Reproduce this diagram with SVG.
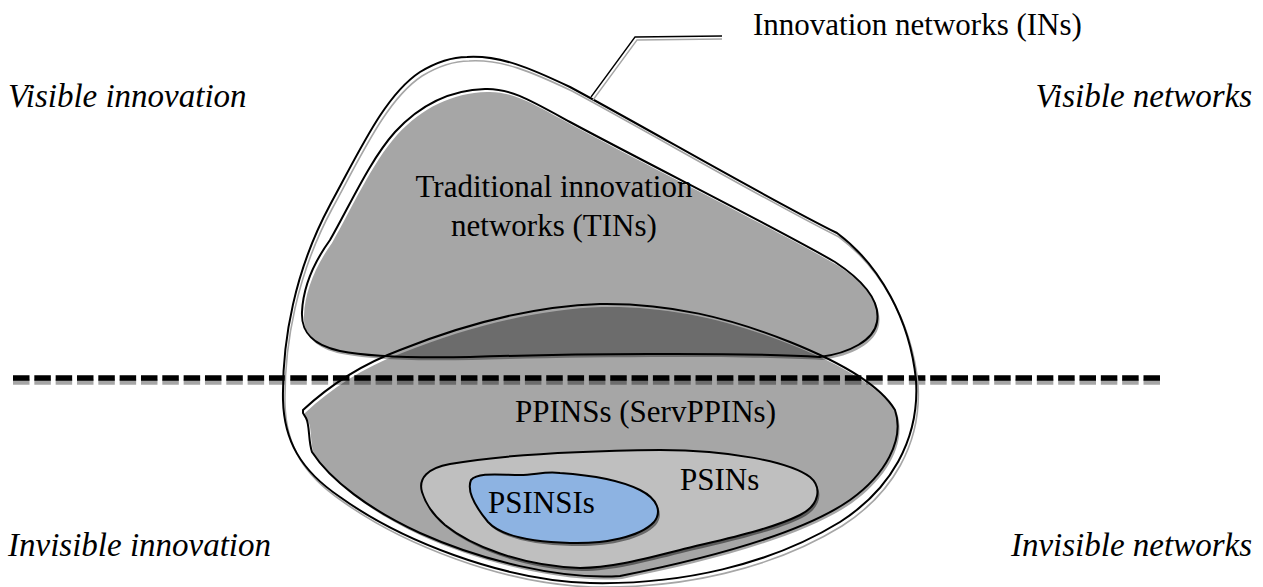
<svg xmlns="http://www.w3.org/2000/svg" width="1263" height="587" viewBox="0 0 1263 587">
<defs>
<style>
text{font-family:"Liberation Serif","Times New Roman",serif;font-size:31px;fill:#000}
.it{font-style:italic;font-size:33px}
.ol{fill:none;stroke:#000;stroke-width:2;stroke-linejoin:round}
.semi{fill:#000;fill-opacity:.35;stroke:none}
.shd{fill:#000;fill-opacity:.45;stroke:none}
.dash{fill:none;stroke-width:5.5;stroke-dasharray:16.5 4.83}
</style>
<path id="pIN" d="M467,57 C500,55 530,68 570,87 C650,130 770,200 837,233 C880,265 910,320 916,380 C920,440 890,490 840,522 C770,565 680,585 590,583 C500,580 400,540 340,497 C300,470 284,440 283,400 C282,340 295,270 330,205 C360,150 385,95 420,72 C440,60 455,57 467,57 Z"/>
<path id="pTIN" d="M485,89 C510,88 530,100 570,122 C650,165 780,230 835,262 C870,285 880,305 877,322 C874,340 850,353 820,357 C740,352 560,354 470,357 C420,358 370,357 340,351 C312,345 301,332 302,312 C303,290 312,265 330,240 C350,205 370,160 395,132 C420,105 450,90 485,89 Z"/>
<path id="pPP" d="M303,410 C330,385 360,365 400,350 C470,322 540,306 600,304 C670,303 730,318 790,342 C840,362 880,385 895,410 C905,440 885,475 850,500 C800,535 700,560 620,576 C560,580 480,560 420,533 C370,510 330,480 312,452 C308,440 310,425 306,418 L303,413 Z"/>
<path id="pPS" d="M422,492 C418,478 428,468 450,464 C500,455 580,451 660,450 C730,450 790,462 810,477 C822,487 820,505 800,515 C770,530 720,540 680,550 C640,560 610,568 580,568 C520,566 470,545 445,525 C432,514 425,502 422,492 Z"/>
<path id="pSI" d="M471,480 C478,472 500,475 520,475 C535,475 545,471 560,473 C590,475 620,480 640,490 C658,499 662,512 654,522 C640,537 605,544 570,543 C530,542 500,535 488,522 C478,510 466,492 471,480 Z"/>
</defs>
<rect width="1263" height="587" fill="#fff"/>
<g id="divider">
<line class="dash" x1="13" y1="382" x2="1160" y2="382" stroke="#a6a6a6"/>
<line class="dash" x1="13" y1="378" x2="1160" y2="378" stroke="#000"/>
</g>
<g id="ins">
<use href="#pIN" transform="translate(2,4)" fill="none" stroke="#a6a6a6" stroke-width="1.6"/>
<use href="#pIN" class="ol"/>
</g>
<g id="tins">
<use href="#pTIN" class="semi" transform="translate(2,3)"/>
<use href="#pTIN" class="ol"/>
<text x="554" y="197" text-anchor="middle">Traditional innovation</text>
<text x="554" y="236" text-anchor="middle">networks (TINs)</text>
</g>
<g id="ppins">
<use href="#pPP" class="semi" transform="translate(2,3)"/>
<use href="#pPP" class="ol"/>
<text x="515" y="422">PPINSs (ServPPINs)</text>
</g>
<g id="psins">
<use href="#pPS" class="shd" transform="translate(2,3)"/>
<use href="#pPS" class="ol" style="fill:#bfbfbf"/>
<text x="680" y="490">PSINs</text>
</g>
<g id="psinsis">
<use href="#pSI" class="shd" transform="translate(2,3)"/>
<use href="#pSI" class="ol" style="fill:#8db3e2"/>
<text x="488" y="513">PSINSIs</text>
</g>
<g id="connectors">
<polyline points="593,100 637,40 722,39" fill="none" stroke="#a6a6a6" stroke-width="1.3"/>
<polyline points="591,97 635,37 722,36" fill="none" stroke="#000" stroke-width="1.3"/>
</g>
<g id="labels">
<text x="753" y="35">Innovation networks (INs)</text>
<text class="it" x="8" y="107">Visible innovation</text>
<text class="it" x="1252" y="107" text-anchor="end">Visible networks</text>
<text class="it" x="8" y="556">Invisible innovation</text>
<text class="it" x="1252" y="556" text-anchor="end">Invisible networks</text>
</g>
</svg>
